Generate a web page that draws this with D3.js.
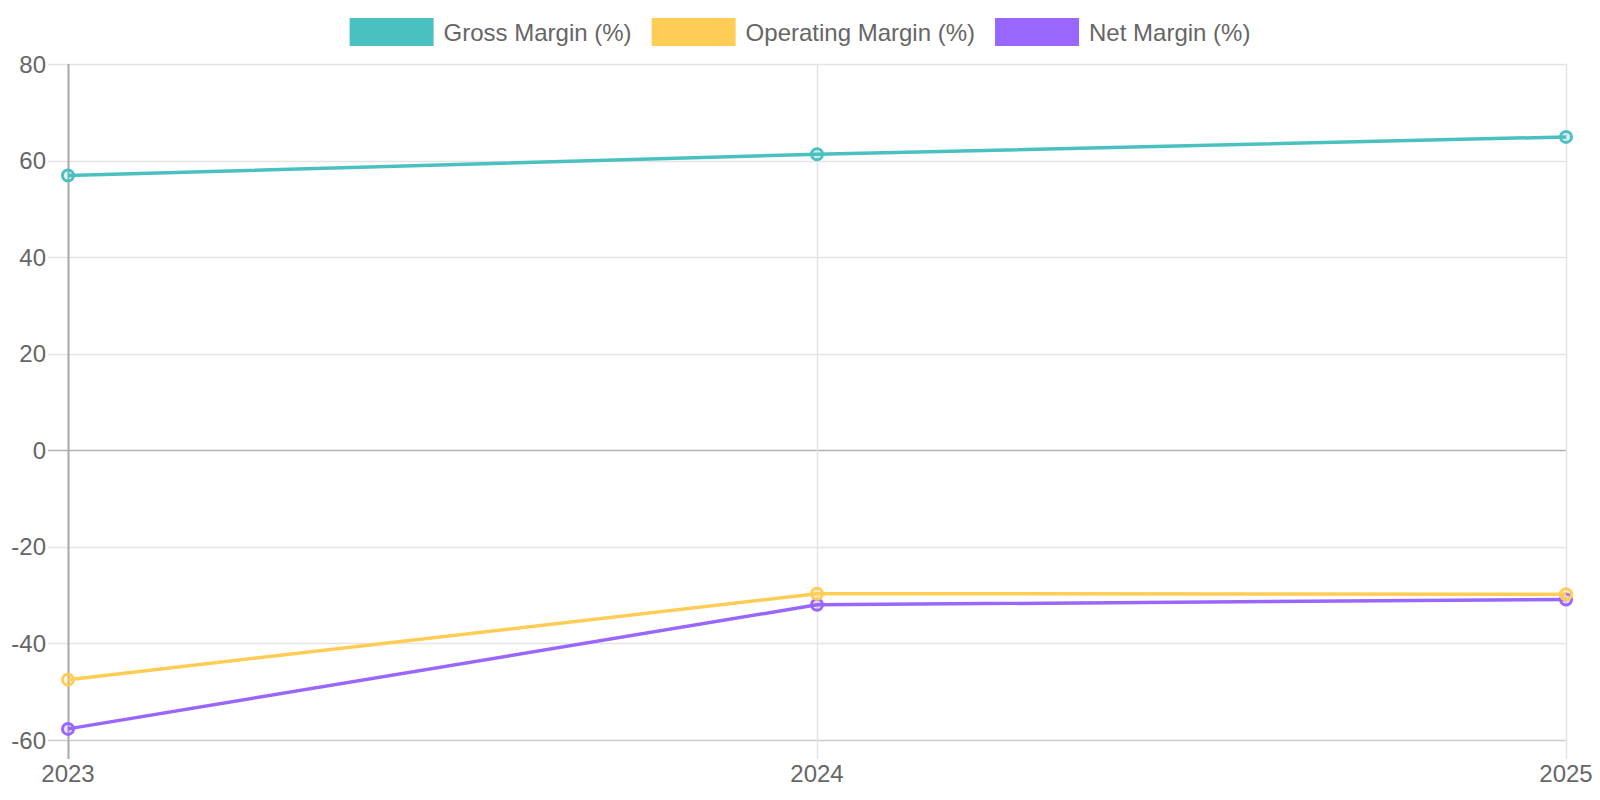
<!DOCTYPE html>
<html>
<head>
<meta charset="utf-8">
<script src="https://cdn.jsdelivr.net/npm/d3@7"></script>
<style>
  html, body { margin: 0; padding: 0; background: #fff; }
  svg { display: block; }
  text { font-family: "Liberation Sans", Arial, Helvetica, sans-serif; }
</style>
</head>
<body>
<svg id="chart" width="1600" height="800"></svg>
<script>
const years = ["2023", "2024", "2025"];
const grossMargin = [56.9, 61.3, 64.9];
const operatingMargin = [-47.5, -29.7, -29.8];
const netMargin = [-57.7, -32.0, -30.9];
const yTicks = [-60, -40, -20, 0, 20, 40, 60, 80];

const series = [
  { name: "Gross Margin (%)", values: grossMargin, color: "#4BC0C0" },
  { name: "Operating Margin (%)", values: operatingMargin, color: "#FFCD56" },
  { name: "Net Margin (%)", values: netMargin, color: "#9966FF" }
];

(function () {
const svg = d3.select("#chart");
const plotLeft = 68, plotRight = 1566, plotTop = 64, plotBottom = 740;
const tickLen = 20;

const x = d3.scalePoint().domain(years).range([plotLeft, plotRight]);
const y = d3.scaleLinear().domain([-60, 80]).range([plotBottom, plotTop]);

const gridColor = "#e4e4e4";
const textColor = "#666";

// horizontal grid lines + y ticks
const gy = svg.append("g");
yTicks.forEach(t => {
  const yy = Math.round(y(t)) + 0.5;
  let col = gridColor;
  if (t === 0) col = "#b0b0b0";
  else if (t === -60) col = "#cccccc";
  gy.append("line")
    .attr("x1", plotLeft - tickLen).attr("x2", plotRight)
    .attr("y1", yy).attr("y2", yy)
    .attr("stroke", col).attr("stroke-width", 1.5);
  gy.append("text")
    .attr("x", plotLeft - 22).attr("y", y(t))
    .attr("text-anchor", "end").attr("dominant-baseline", "central")
    .attr("font-size", 24).attr("fill", textColor)
    .text(t);
});

// vertical grid lines + x ticks
const gx = svg.append("g");
years.forEach((yr, i) => {
  const xx = Math.round(x(yr)) + 0.5;
  gx.append("line")
    .attr("x1", xx).attr("x2", xx)
    .attr("y1", plotTop).attr("y2", plotBottom + tickLen - 1)
    .attr("stroke", i === 0 ? "#a8a8a8" : gridColor).attr("stroke-width", i === 0 ? 2 : 1.5);
  gx.append("text")
    .attr("x", x(yr)).attr("y", 782)
    .attr("text-anchor", "middle")
    .attr("font-size", 24).attr("fill", textColor)
    .text(yr);
});

// lines & points (draw in reverse order so first dataset is on top)
const lineGen = d3.line().x((d, i) => x(years[i])).y(d => y(d));
series.slice().reverse().forEach(s => {
  const g = svg.append("g");
  g.append("path")
    .datum(s.values)
    .attr("d", lineGen)
    .attr("fill", "none")
    .attr("stroke", s.color)
    .attr("stroke-width", 3.5);
  g.selectAll("circle")
    .data(s.values)
    .join("circle")
    .attr("cx", (d, i) => x(years[i]))
    .attr("cy", d => y(d))
    .attr("r", 5.5)
    .attr("fill", s.color)
    .attr("fill-opacity", 0.2)
    .attr("stroke", s.color)
    .attr("stroke-width", 3);
});

// legend
const boxW = 84, boxH = 28, boxGap = 10, itemGap = 20;
const legend = svg.append("g");
const measure = svg.append("text").attr("font-size", 24).attr("visibility", "hidden");
const widths = series.map(s => { measure.text(s.name); return measure.node().getComputedTextLength(); });
measure.remove();
const total = d3.sum(widths) + series.length * (boxW + boxGap) + (series.length - 1) * itemGap;
let lx = 800 - total / 2;
series.forEach((s, i) => {
  legend.append("rect")
    .attr("x", lx).attr("y", 18)
    .attr("width", boxW).attr("height", boxH)
    .attr("fill", s.color);
  legend.append("text")
    .attr("x", lx + boxW + boxGap).attr("y", 32)
    .attr("dominant-baseline", "central")
    .attr("font-size", 24).attr("fill", textColor)
    .text(s.name);
  lx += boxW + boxGap + widths[i] + itemGap;
});
})();
</script>
</body>
</html>
